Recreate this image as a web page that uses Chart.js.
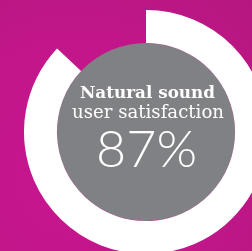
<!DOCTYPE html>
<html>
<head>
<meta charset="utf-8">
<script src="https://cdn.jsdelivr.net/npm/chart.js@4/dist/chart.umd.min.js"></script>
<style>
html,body{margin:0;padding:0;width:252px;height:251px;overflow:hidden;}
body{background:radial-gradient(circle at 30% 70%, #c6168e 0%, #c3168b 50%, #b5177f 100%);position:relative;}
#c{position:absolute;left:24px;top:10px;}
</style>
</head>
<body>
<canvas id="c" width="244" height="244"></canvas>
<script>
const categories = ['Satisfied', 'Other'];
const values = [87, 13];
const titleLines = ['Natural sound', 'user satisfaction'];
const valueLabel = '87%';

const centerPlugin = {
  id: 'center',
  beforeDatasetsDraw(chart) {
    const arc = chart.getDatasetMeta(0).data[0];
    const ctx = chart.ctx;
    ctx.save();
    ctx.beginPath();
    ctx.arc(arc.x, arc.y, arc.innerRadius, 0, Math.PI * 2);
    ctx.fillStyle = '#808184';
    ctx.fill();
    ctx.restore();
  },
  afterDatasetsDraw(chart) {
    const arc = chart.getDatasetMeta(0).data[0];
    const ctx = chart.ctx;
    const cx = arc.x, cy = arc.y;
    function fitText(text, font, targetW, x, baseline) {
      ctx.save();
      ctx.font = font;
      const w = ctx.measureText(text).width;
      const s = targetW / w;
      ctx.translate(x, baseline);
      ctx.scale(s, 1);
      ctx.textAlign = 'center';
      ctx.textBaseline = 'alphabetic';
      ctx.fillStyle = '#ffffff';
      ctx.fillText(text, 0, 0);
      ctx.restore();
    }
    fitText(titleLines[0], 'bold 17px "DejaVu Serif"', 135, cx + 1.5, cy - 34.5);
    fitText(titleLines[1], '300 18px "DejaVu Serif"', 152, cx + 2, cy - 14.5);
    fitText(valueLabel, '300 51px Lato', 101, cx + 0.5, cy + 34.5);
  }
};

new Chart(document.getElementById('c'), {
  type: 'doughnut',
  data: {
    labels: categories,
    datasets: [{
      data: values,
      backgroundColor: ['#ffffff', 'rgba(0,0,0,0)'],
      borderWidth: 0,
      hoverOffset: 0
    }]
  },
  options: {
    responsive: false,
    devicePixelRatio: 1,
    animation: false,
    cutout: '73%',
    layout: { padding: 0 },
    plugins: { legend: { display: false }, tooltip: { enabled: false } },
    events: []
  },
  plugins: [centerPlugin]
});
</script>
</body>
</html>
